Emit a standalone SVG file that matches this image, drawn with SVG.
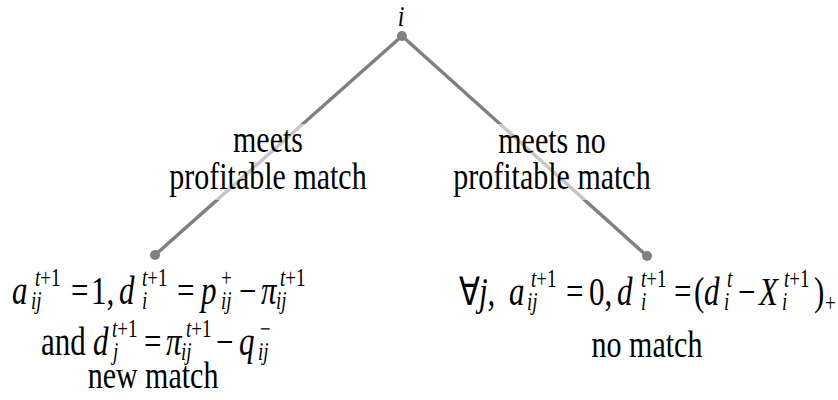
<svg xmlns="http://www.w3.org/2000/svg" width="838" height="400" viewBox="0 0 838 400">
<style>
.t{font-family:"Liberation Serif","Times New Roman",serif;font-size:30px;fill:#000}
.m{font-size:31px}
.c{text-anchor:middle}
.it{font-style:italic}
.s{font-size:19px}
.edge{stroke:#808080;stroke-width:3.5;fill:none}
.dot{fill:#808080}
.bg{fill:#fff;opacity:0.55}
</style>
<g id="connectors">
<line class="edge" x1="402" y1="36" x2="155" y2="255"/>
<line class="edge" x1="402" y1="36" x2="647" y2="256"/>
</g>
<g id="root">
<circle class="dot" cx="402" cy="36" r="5"/>
<text class="t it c" style="font-size:24px" transform="translate(401,26) scale(1,1.25)" x="0" y="0">i</text>
</g>
<g id="label-left">
<rect class="bg" x="168" y="124" width="200" height="76"/>
<text class="t c" transform="translate(268,152) scale(1,1.27)" x="0" y="0">meets</text>
<text class="t c" transform="translate(268,189) scale(1,1.27)" x="0" y="0">profitable match</text>
</g>
<g id="label-right">
<rect class="bg" x="452" y="124" width="202" height="76"/>
<text class="t c" transform="translate(552,153) scale(1,1.27)" x="0" y="0">meets no</text>
<text class="t c" transform="translate(552,189) scale(1,1.27)" x="0" y="0">profitable match</text>
</g>
<g id="leaf-left">
<circle class="dot" cx="155" cy="255" r="5"/>
<text class="t m" transform="translate(0,304) scale(1,1.27)"><tspan class="it" x="12" y="0">a</tspan><tspan class="s" x="35" y="-14"><tspan class="it">t</tspan>+1</tspan><tspan class="s it" x="31" y="4">ij</tspan><tspan x="71" y="0">=</tspan><tspan x="91" y="0">1,</tspan><tspan class="it" x="119" y="0">d</tspan><tspan class="s" x="142" y="-14"><tspan class="it">t</tspan>+1</tspan><tspan class="s it" x="142" y="4">i</tspan><tspan x="177" y="0">=</tspan><tspan class="it" x="201" y="0">p</tspan><tspan class="s" x="221" y="-14">+</tspan><tspan class="s it" x="221" y="4">ij</tspan><tspan x="239" y="0">−</tspan><tspan class="it" x="261" y="0">π</tspan><tspan class="s" x="280" y="-14"><tspan class="it">t</tspan>+1</tspan><tspan class="s it" x="276" y="4">ij</tspan></text>
<text class="t m" transform="translate(0,355) scale(1,1.27)"><tspan x="41" y="0">and</tspan><tspan class="it" x="93" y="0">d</tspan><tspan class="s" x="112" y="-14"><tspan class="it">t</tspan>+1</tspan><tspan class="s it" x="113" y="4">j</tspan><tspan x="144" y="0">=</tspan><tspan class="it" x="166" y="0">π</tspan><tspan class="s" x="186" y="-14"><tspan class="it">t</tspan>+1</tspan><tspan class="s it" x="181" y="4">ij</tspan><tspan x="216" y="0">−</tspan><tspan class="it" x="239" y="0">q</tspan><tspan class="s" x="260" y="-14">−</tspan><tspan class="s it" x="258" y="4">ij</tspan></text>
<text class="t c" transform="translate(153,388) scale(1,1.27)" x="0" y="0">new match</text>
</g>
<g id="leaf-right">
<circle class="dot" cx="647" cy="256" r="5"/>
<text class="t m" transform="translate(0,305) scale(1,1.27)"><tspan x="459" y="0">∀</tspan><tspan class="it" x="479" y="0">j,</tspan><tspan class="it" x="509" y="0">a</tspan><tspan class="s" x="531" y="-14"><tspan class="it">t</tspan>+1</tspan><tspan class="s it" x="527" y="4">ij</tspan><tspan x="566" y="0">=</tspan><tspan x="589" y="0">0,</tspan><tspan class="it" x="617" y="0">d</tspan><tspan class="s" x="641" y="-14"><tspan class="it">t</tspan>+1</tspan><tspan class="s it" x="641" y="4">i</tspan><tspan x="674" y="0">=</tspan><tspan x="694" y="0">(</tspan><tspan class="it" x="704" y="0">d</tspan><tspan class="s it" x="727" y="-14">t</tspan><tspan class="s it" x="724" y="4">i</tspan><tspan x="738" y="0">−</tspan><tspan class="it" x="759" y="0">X</tspan><tspan class="s" x="784" y="-14"><tspan class="it">t</tspan>+1</tspan><tspan class="s it" x="782" y="4">i</tspan><tspan x="814" y="0">)</tspan><tspan class="s" x="825" y="5">+</tspan></text>
<text class="t c" transform="translate(647,357) scale(1,1.27)" x="0" y="0">no match</text>
</g>
</svg>
